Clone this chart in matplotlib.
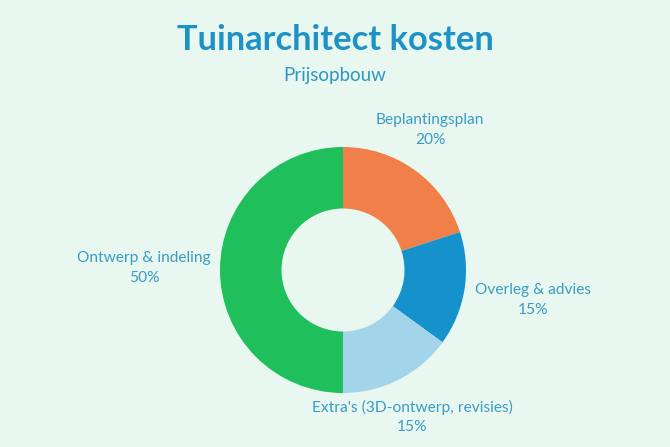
import matplotlib
matplotlib.use("Agg")
import matplotlib.pyplot as plt
import numpy as np

categories = ["Beplantingsplan", "Overleg & advies", "Extra's (3D-ontwerp, revisies)", "Ontwerp & indeling"]
values = [20, 15, 15, 50]
colors = ["#f07f4a", "#1592cb", "#a3d5ea", "#1fbf5c"]

title = "Tuinarchitect kosten"
subtitle = "Prijsopbouw"

bg = "#e8f8f0"
plt.rcParams['font.family'] = ['Lato', 'DejaVu Sans']

W, H = 670, 447
fig = plt.figure(figsize=(W / 100, H / 100), dpi=100, facecolor=bg)

# Axes mapping pixel coordinates: center (343, 270), radius 123 px
R = 123.0
cx, cy = 343.0, 270.0
ax = fig.add_axes([0, 0, 1, 1])
ax.set_facecolor(bg)

ax.pie(values, colors=colors, startangle=90, counterclock=False,
       radius=1.0, wedgeprops=dict(width=0.5, edgecolor='none'))

ax.set_xlim((0 - cx) / R, (W - cx) / R)
ax.set_ylim((cy - H) / R, cy / R)
ax.set_aspect('auto')
ax.axis('off')

# label layout (pixel positions of label centers)
label_pos = [(430, 130), (533, 300), (412, 417), (144, 268)]
label_color = "#3a9cc4"
for cat, val, (px, py) in zip(categories, values, label_pos):
    x = (px - cx) / R
    y = (cy - py) / R
    ax.text(x, y, f"{cat}\n{val}%", ha='center', va='center', fontsize=11.2,
            color=label_color, linespacing=1.5)

fig.text(0.5, 1 - 40 / H, title, ha='center', va='center', fontsize=24.8,
         fontweight='bold', color="#1c92c6")
fig.text(0.5, 1 - 75 / H, subtitle, ha='center', va='center', fontsize=13.5,
         color="#2e96c2")

fig.savefig("out.png", dpi=100, facecolor=bg)
